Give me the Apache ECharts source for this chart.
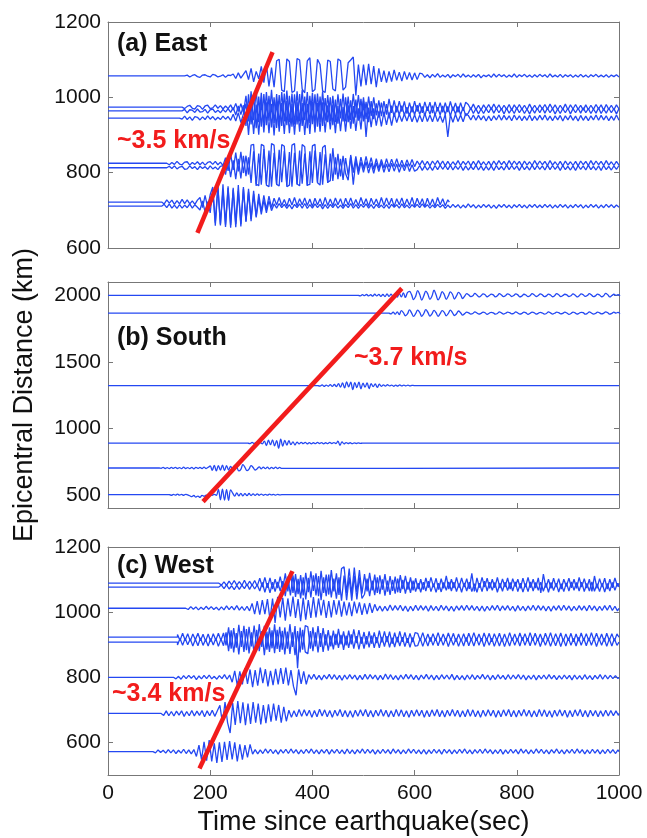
<!DOCTYPE html>
<html>
<head>
<meta charset="utf-8">
<script src="https://cdn.jsdelivr.net/npm/echarts@6/dist/echarts.min.js"></script>
<style>
  html, body { margin: 0; background: #fff; }
  #seismoChart { width: 647px; height: 838px; }
</style>
</head>
<body>
<div id="seismoChart"></div>
<script>
// tick labels
const timeTicks = [0, 200, 400, 600, 800, 1000]
const eastTicks = [600, 800, 1000, 1200]
const southTicks = [500, 1000, 1500, 2000]
const westTicks = [600, 800, 1000, 1200]

// (a) East : station distance (km), onset of the record (s), end of the record (s)
const eastBase = [1057, 974, 964, 945, 825, 813, 722, 711]
const eastOnset = [150, 145, 145, 140, 115, 115, 105, 105]
const eastEnd = [1000, 1000, 1000, 1000, 1000, 1000, 668, 1000]
const eastStep = 5
// offsets (km) from the baseline, one value every eastStep seconds from onset
const eastWaves = [
  [0,2,-3,1,3,-2,-4,2,3,-1,-3,4,2,-3,-1,3,-4,2,1,
   5,-7,8,-6,4,
   14,-10,20,-16,12,-8,
   25,-18,30,-28,22,-30,
   40,44,-38,-42,45,38,-44,-40,46,42,-35,-45,40,48,-42,-36,44,30,-40,-44,42,38,-35,-40,45,40,-38,-30,35,42,
   50,-52,30,
   -28,30,-25,32,-22,26,-30,20,
   -16,14,-18,12,-15,16,-12,10,-14,12,-10,9,-11,8,-10,7,
   5,-4,3,-5,4,-3,6,-4,2,-3,4,-5,3,-2,4,-4,5,-3,2,-4,3,-3,4,-5,2,-2,3,-4,5,-3,
   4,-2,3,-4,2,-3,5,-4,3,-2,4,-3,2,-4,3,-3,4,-2,3,-4,5,-3,2,-3,4,-4,3,-2,3,-4,
   2,-3,4,-3,2,-4,3,-2,4,-3,2,-3,3,-4,2,-2,3,-3],
  [3,-4,2,5,-3,-5,4,2,-6,3,5,-4,-2,6,-3,4,-5,3,-4,6,
   -8,10,-12,9,-14,
   30,-38,42,-35,45,-40,38,-44,40,-36,46,-42,35,-45,40,-38,44,-40,36,-46,42,-38,45,-35,40,-42,38,-44,36,-40,42,
   -36,32,-38,30,-40,34,-30,36,-38,28,-34,35,-28,32,-30,26,-32,28,-24,26,
   -22,18,-24,16,-20,22,-15,18,
   -14,16,-12,15,-17,12,-14,16,-12,11,-15,14,-10,13,-16,14,-11,12,-14,12,-13,15,-10,11,-14,12,-10,13,
   7,-6,8,-7,5,-8,6,-5,7,-6,8,-5,6,-7,5,-6,7,-8,6,-5,7,-6,5,-7,8,-6,5,-7,6,-5,
   7,-6,8,-5,6,-7,5,-6,8,-7,6,-5,7,-6,5,-8,6,-7,5,-6,7,-5,6,-8,7,-6,5,-7,6,-5],
  [-2,4,-5,3,2,-4,5,-3,-2,4,-6,3,5,-4,2,-5,4,-3,6,-4,
   9,-11,13,-10,15,
   -40,44,-36,42,-46,38,-42,45,-38,40,-44,36,-45,42,-40,46,-38,40,-42,44,-36,45,-40,38,-46,40,-35,44,-42,38,-40,
   34,-30,36,-38,30,-34,32,-28,36,-30,28,-34,30,-26,32,-28,24,-30,26,-22,
   20,-18,22,-15,18,-20,14,-16,
   13,-11,14,-12,10,-14,12,-11,15,-10,12,-13,11,-9,14,-12,10,-11,13,-10,12,-14,11,-9,12,-11,10,-13,
   -6,8,-7,6,-8,5,-7,6,-5,8,-6,7,-5,6,-8,7,-6,5,-7,8,-5,6,-7,5,-8,6,-6,7,-5,8,
   -6,7,-5,6,-8,5,-7,6,-5,7,-8,6,-5,7,-6,8,-5,6,-7,5,-6,8,-7,5,-6,7,-5,6,-8,6],
  [4,-3,5,-4,3,-6,4,2,-5,3,-4,6,-3,4,-5,2,-4,5,-3,4,-6,
   10,-8,14,-12,11,
   38,-45,40,-42,36,-44,46,-38,42,-40,38,-46,44,-36,40,-42,45,-40,38,-44,42,-36,40,-45,38,-42,44,-38,40,-36,42,
   -38,34,-30,36,-40,32,-35,30,-36,34,-28,32,-34,26,-30,45,-50,28,-24,26,
   -20,18,-22,16,-18,15,-20,14,
   -12,10,-9,11,-8,12,-10,9,-11,8,-10,12,-9,8,-10,11,-9,7,-12,10,-50,9,-11,10,-9,8,-10,12,
   7,-5,8,-6,7,-5,6,-8,5,-7,6,-5,8,-6,7,-5,6,-7,8,-5,6,-7,5,-6,8,-7,5,-6,7,-5,
   8,-6,5,-7,6,-5,7,-8,6,-5,7,-6,5,-8,7,-6,5,-7,6,-5,8,-6,7,-5,6,-7,5,-6,8,-6],
  [3,-4,2,-3,5,-2,-4,3,4,-5,2,-3,4,-4,3,-5,2,4,-3,5,-4,3,-6,
   15,-20,25,-18,28,-22,30,-26,20,-30,
   48,50,-55,-60,50,46,-58,-62,52,48,-56,-60,50,45,-62,-58,48,52,-55,-60,50,44,-58,-56,46,50,-52,-58,42,48,-50,-46,40,
   -30,25,-35,20,-28,-45,22,-25,18,-20,
   16,-14,18,-12,15,-16,12,-14,10,-13,12,-10,11,-9,12,-10,8,-11,9,-8,10,-9,
   6,-5,7,-6,5,-7,6,-4,7,-5,6,-7,5,-6,4,-5,7,-6,5,-4,6,-7,5,-6,7,-5,4,-6,5,-7,
   6,-5,7,-4,5,-6,7,-5,6,-4,5,-7,6,-5,4,-6,7,-5,6,-4,5,-6,7,-5,4,-6,5,-7,6,-5,
   4,-6,5,-7,6,-4,5,-6,7,-5,6,-4,5,-6,7,-5,4,-6,5,-5],
  [-3,4,-2,5,-3,2,4,-4,-3,5,-2,3,-5,4,-2,3,-4,5,-3,2,-5,4,6,
   -18,22,-25,20,-30,24,-28,32,-22,28,
   -40,44,-48,38,-45,50,-42,46,-50,40,-44,48,-38,45,-46,42,-50,40,-44,46,-42,38,-48,44,-40,46,-38,42,-45,36,-40,38,-35,
   28,-30,24,-32,26,-20,30,-45,20,-18,
   15,-12,16,-14,12,-15,13,-10,14,-12,10,-11,12,-9,10,-12,9,-8,11,-10,8,-9,
   -5,6,-7,5,-6,4,-7,6,-5,7,-4,6,-5,7,-6,5,-4,6,-7,5,-6,4,-5,7,-6,5,-7,4,-6,5,
   -7,6,-5,4,-6,7,-5,6,-4,5,-7,6,-5,4,-6,7,-5,6,-4,5,-6,7,-5,6,-4,5,-7,6,-5,4,
   -6,5,-7,6,-4,5,-6,7,-5,4,-6,5,-7,6,-5,4,-6,5,-4,6],
  [4,-5,6,-3,5,-6,4,-5,7,-4,6,-5,3,-6,5,
   12,-15,18,-14,20,
   40,-55,45,-62,47,-60,42,-68,38,-58,45,-65,40,-50,35,-45,30,-38,
   22,-25,18,-20,16,-15,
   10,-8,12,-9,7,-11,10,-8,12,-10,9,-7,11,-9,8,-12,10,-8,9,-11,
   12,-9,8,-10,11,-7,9,-12,10,-8,11,-9,7,-10,12,-8,9,-11,10,-7,
   8,-10,12,-9,11,-8,10,-12,9,-7,11,-10,8,-9,12,-11,10,-8,9,-12,
   10,-9,8,-11,12,-7,9,-10,6],
  [-3,5,-4,6,-5,3,-6,4,-5,3,-4,6,-5,4,-3,
   -10,14,-16,12,-18,
   45,-52,50,-48,42,-55,48,-50,44,-56,40,-48,46,-42,38,-40,32,-30,
   20,-22,16,-18,14,-12,
   6,-5,7,-4,5,-6,4,-7,5,-4,6,-5,7,-6,4,-5,6,-4,5,-7,
   4,-6,5,-4,6,-5,3,-6,5,-4,7,-5,4,-6,5,-3,6,-5,4,-6,
   5,-4,3,-5,4,-6,5,-3,4,-5,6,-4,3,-5,4,-3,5,-4,6,-3,
   4,-5,3,-4,5,-3,4,-6,3,-4,5,-3,4,-5,3,-4,6,-3,4,-5,
   3,-4,5,-3,4,-5,3,-6,4,-3,5,-4,3,-5,4,-3,5,-4,3,-5,
   4,-3,5,-4,3,-4,5,-3,4,-5,3,-4,5,-3,4,-5,3,-4,5,-3,
   4,-5,3,-4,5,-3,4,-5,3,-4,5,-3,4,-4,3,-3]
]
const eastSlope = [[175, 640], [322, 1120]]

// (b) South
const southBase = [2000, 1866, 1321, 888, 701, 500]
const southOnset = [490, 550, 411, 274, 100, 120]
const southEnd = [1000, 1000, 1000, 1000, 1000, 1000]
const southStep = 4
const southWaves = [
  [3,-4,5,-3,6,-5,4,-6,8,-5,7,-8,6,-9,10,-8,9,-12,10,-14,15,-12,18,-16,20,
   30,5,-32,-8,35,6,-36,-4,32,8,-30,-6,38,4,-35,-10,28,6,-30,-5,25,8,-28,-4,22,5,-24,-6,
   12,3,-10,-4,14,2,-12,-3,10,4,-11,-2,9,3,-12,-4,13,2,-10,-3,
   11,4,-9,-2,10,3,-12,-5,8,2,-10,-3,12,4,-9,-2,11,3,-10,-4,
   9,2,-11,-3,12,4,-10,-2,8,3,-9,-4,11,2,-12,-3,10,4,-8,-2,
   12,3,-10,-4,9,2,-11,-3,14,4,-12,-2,8,0,5,-4],
  [4,-6,8,-8,10,-12,
   18,4,-20,-6,24,2,-25,-4,22,6,-24,-3,26,5,-22,-6,20,3,-24,-4,18,6,-20,-2,22,4,-18,-5,16,3,-15,-4,
   8,2,-7,-3,9,1,-8,-2,7,3,-9,-1,6,2,-8,-3,9,2,-7,-1,
   8,3,-6,-2,9,1,-8,-3,7,2,-9,-1,8,3,-7,-2,6,1,-8,-3,
   9,2,-7,-1,8,3,-6,-2,7,1,-9,-3,8,2,-7,-1,6,3,-8,-2,
   9,1,-7,-3,8,2,-6,-1,9,3,-8,-2,7,0,5,-4],
  [3,-4,5,-6,4,-5,7,-6,8,-7,
   15,-12,20,-18,28,-10,25,-30,22,-15,26,-24,18,-12,20,-22,15,-8,12,-14,10,-6,
   5,-4,6,-3,4,-5,3,-4,5,-3,4,-2,3,-3,2,0],
  [3,-4,5,-3,6,-5,4,-6,
   15,-18,22,-12,25,-20,18,-38,30,-22,20,-15,18,-12,10,-14,8,
   -5,6,-4,5,-6,4,-5,3,-4,5,-3,4,-5,3,-4,5,-3,4,-3,
   14,-16,10,-6,
   4,-3,3,-4,2,-3,2,-2,0],
  [4,-3,5,-4,3,-5,4,-3,5,-4,3,-5,6,-4,3,-5,4,-6,5,-3,4,-5,6,-4,5,
   15,-18,20,-22,18,-16,22,-20,18,-15,12,-10,
   20,8,-22,-10,25,5,-20,-8,18,4,-15,-5,
   8,-6,7,-5,6,-7,5,-4,6,-5,4,-3],
  [3,-4,2,-3,4,-3,2,-4,3,-2,
   -8,-15,-6,-18,-10,-20,-5,-12,-4,-6,
   4,-5,3,-4,
   40,-38,42,-40,38,-42,36,
   12,-10,14,-8,10,-9,8,-7,9,-6,7,-5,6,-4,5,
   -4,3,-3,4,-2,3,-3,2,-2,0]
]
const southSlope = [[186, 448], [575, 2052]]

// (c) West
const westBase = [1089, 1077, 1012, 923, 908, 800, 689, 572]
const westOnset = [217, 217, 152, 136, 136, 128, 104, 88]
const westEnd = [1000, 1000, 1000, 1000, 1000, 1000, 1000, 1000]
const westStep = 5
const westWaves = [
  [5,-6,4,-7,6,-5,8,-6,5,-7,9,-8,6,-7,8,-9,
   15,-12,18,-14,16,-18,12,-15,20,-16,
   30,-25,35,-30,28,-34,25,-38,32,-28,36,-24,30,-40,38,-30,26,-35,40,-25,30,-36,45,
   50,-30,45,-35,48,-28,40,-32,
   28,-25,32,-22,26,-30,24,-20,28,-26,22,-24,20,-28,25,-18,22,-20,18,-22,
   15,-18,12,-20,16,-14,18,-12,15,-20,14,-16,22,-18,12,-15,18,-14,16,-12,
   14,-18,30,-25,16,-14,18,-12,15,-16,12,-14,18,-15,13,-12,16,-18,14,-10,
   12,-16,15,-12,18,-14,12,-15,16,-30,28,-14,12,-16,15,-12,14,-18,12,-10,
   15,-14,12,-16,18,-12,14,-15,12,-25,22,-16,14,-12,15,-18,12,-14,16,-10],
  [-4,6,-5,7,-6,4,-8,5,-7,6,-5,9,-7,8,-6,7,
   -12,14,-16,12,-18,15,-14,16,-12,18,
   -28,32,-26,36,-30,25,-35,30,-38,28,-32,36,-26,34,-40,30,-28,38,-32,26,-36,30,-42,
   35,-40,30,-42,35,-38,30,-35,
   -22,26,-28,20,-25,30,-22,24,-26,20,-24,22,-20,26,-18,22,-20,16,-18,20,
   -14,12,-16,15,-12,18,-14,10,-16,12,-15,14,-10,16,-12,15,-14,11,-16,13,
   -12,15,-14,10,-16,12,-14,18,-12,15,-10,14,-16,12,-13,15,-11,14,-12,16,
   -14,12,-15,10,-14,16,-12,14,-10,15,-13,12,-16,14,-11,12,-15,10,-14,13,
   -12,16,-10,14,-12,15,-14,11,-12,16,-13,10,-14,12,-15,11,-12,14,-10,12],
  [3,-4,5,-3,4,-5,3,-4,6,-3,5,-4,3,-6,4,-5,7,-4,6,-5,8,-6,5,-7,6,-8,
   15,-18,22,-20,25,-18,28,-35,30,-45,
   35,-28,32,-38,30,-25,36,-30,28,-40,32,-35,25,-30,34,-28,30,-22,26,-30,
   22,-28,25,-20,24,-26,20,-22,18,-24,20,-16,18,-20,15,-18,16,-14,12,
   -8,7,-9,6,-8,10,-7,8,-6,9,-8,7,-10,6,-8,9,-7,8,-6,7,
   -9,8,-7,6,-8,9,-6,7,-8,6,-9,7,-6,8,-7,9,-6,8,-7,6,
   -8,7,-9,6,-7,8,-6,9,-8,7,-6,8,-7,6,-9,8,-7,6,-8,7,
   -6,9,-7,8,-6,7,-8,6,-9,7,-6,8,-7,9,-6,7,-8,6,-7,8,
   -6,7,-8,9,-6,7,-8,6,-7,8,-6,9,-7,6,-8],
  [8,-10,12,-9,11,-12,10,-8,12,-11,9,-12,10,-13,11,-9,12,-10,13,
   -25,30,-35,28,-32,38,-30,35,-40,32,-28,36,-34,40,-30,35,-38,30,-34,40,
   -36,32,-38,30,-35,40,-30,34,-95,30,-38,36,32,-35,30,-28,34,-30,28,
   -25,22,-28,20,-24,26,-22,18,-25,20,-22,24,-18,22,-20,16,-22,18,-20,15,
   -18,20,-16,18,-15,17,-20,14,-16,18,-14,15,-17,12,-15,14,
   12,-10,14,-12,10,-13,11,-10,14,-12,10,-11,13,-10,12,-14,10,-12,11,-13,
   12,-10,14,-11,10,-12,13,-10,12,-14,11,-10,12,-13,10,-12,14,-11,10,-12,
   13,-10,11,-12,14,-10,12,-11,10,-13,12,-10,14,-12,11,-10,13,-12,10,-11,
   12,-14,10,-12,13,-10,11,-12,14,-10,12,-11,10,-13,12,-10,11,-12,10],
  [-9,11,-10,12,-8,10,-12,9,-11,13,-10,8,-12,11,-9,12,-13,10,-11,
   30,-28,36,-32,28,-38,34,-30,40,-35,30,-36,38,-28,34,-40,32,-30,36,-34,
   38,-30,35,-38,32,-36,30,-40,34,-32,38,-30,-36,34,-28,30,-32,28,-30,
   24,-26,20,-22,25,-18,22,-24,20,-18,24,-20,18,-22,16,-20,18,-16,20,-18,
   15,-18,16,-14,18,-16,14,-15,16,-12,15,-14,12,-16,14,-12,
   -11,12,-13,10,-12,14,-10,12,-11,13,-10,12,-14,11,-10,12,-13,10,-12,14,
   -11,10,-12,13,-10,12,-14,11,-10,12,-13,10,-12,11,-14,10,-12,13,-10,11,
   -12,14,-10,12,-11,13,-10,12,-14,11,-10,12,-13,10,-11,12,-14,10,-12,13,
   -10,11,-12,14,-10,12,-11,13,-10,12,-14,11,-10,12,-13,10,-12,11,-10],
  [4,-5,3,-6,5,-4,6,-3,5,-7,4,-5,6,-4,7,-5,3,-6,5,-4,8,-6,7,
   -15,20,-25,18,-22,28,-20,24,-30,22,-26,30,-18,25,-28,20,-24,26,-22,28,
   -20,30,-25,22,-28,-55,24,-20,18,-22,
   8,-6,9,-7,6,-8,7,-5,9,-6,8,-7,6,-9,7,-6,8,-5,7,-8,
   6,-7,9,-6,8,-5,7,-8,6,-7,10,-6,8,-7,5,-8,7,-6,9,-5,
   8,-7,6,-8,7,-5,9,-6,7,-8,6,-7,8,-5,7,-6,9,-8,6,-7,
   5,-8,7,-6,8,-7,6,-5,9,-6,7,-8,6,-7,8,-5,6,-7,8,-6,
   7,-5,8,-6,7,-8,5,-6,7,-8,6,-5,7,-6,8,-5,6,-7,5,-6,
   7,-5,6,-8,7,-6,5,-7,8,-6,5,-7,6,-5,8,-6,7,-5,6,-4,
   5,-4],
  [5,-6,8,-7,6,-8,7,-5,8,-9,6,-7,9,-8,7,-6,9,-10,8,-7,10,-9,8,
   25,-30,35,-28,-60,32,-35,38,-30,34,-36,30,-32,35,-28,30,-34,26,-30,28,
   -25,30,-22,26,-28,20,-24,
   10,-12,8,-10,12,-9,11,-8,10,-12,9,-10,13,-8,11,-10,9,-12,10,-8,
   12,-10,9,-11,8,-12,10,-9,11,-8,12,-10,9,-11,10,-8,12,-9,10,-11,
   8,-10,12,-9,11,-10,8,-12,10,-9,11,-8,10,-12,9,-10,11,-8,12,-10,
   9,-11,10,-8,12,-9,10,-11,8,-10,12,-9,11,-10,8,-12,10,-9,11,-8,
   10,-12,9,-10,11,-8,12,-10,9,-11,10,-8,12,-9,10,-11,8,-10,12,-9,
   11,-10,8,-12,10,-9,11,-8,10,-12,9,-10,11,-8,12,-10,9,-11,10,-8,
   9,-10,8,-9,10,-8,9,-7,8,-6],
  [3,-4,5,-3,4,-5,6,-4,5,-6,4,-5,7,-6,5,-7,6,
   -15,20,-25,30,-28,35,-30,25,-35,28,-32,30,-26,32,-24,28,-30,22,-25,20,-18,22,
   -8,6,-7,5,-6,8,-5,7,-6,5,-8,6,-5,7,-6,8,-5,6,-7,5,
   -6,7,-5,8,-6,5,-7,6,-5,7,-8,6,-5,7,-6,5,-7,8,-6,5,
   -7,6,-5,8,-6,7,-5,6,-8,5,-6,7,-5,6,-7,8,-5,6,-7,5,
   -6,8,-5,7,-6,5,-7,6,-8,5,-6,7,-5,6,-8,7,-5,6,-7,5,
   -6,7,-5,8,-6,5,-7,6,-5,7,-6,8,-5,6,-7,5,-6,7,-8,5,
   -6,7,-5,6,-7,8,-5,6,-7,5,-6,8,-5,7,-6,5,-7,6,-5,8,
   -6,5,-7,6,-5,7,-6,8,-5,6,-7,5,-6,7,-5,6,-7,5,-6,7,
   -5,6,-6,5]
]
const westSlope = [[179, 520], [361, 1126]]

const traceColor = '#2448f2'
const slopeColor = '#f21c1c'
const frameColor = '#777'
const fontFamily = '"Liberation Sans", Arial, sans-serif'

const buildTraces = (base, onset, end, step, waves, g, smooth) => base.map((b, k) => {
  const pts = [[0, b], [onset[k], b]]
  waves[k].forEach((v, i) => pts.push([onset[k] + step * i, b + v]))
  const last = onset[k] + step * (waves[k].length - 1)
  if (last < end[k]) pts.push([end[k], b])
  return {
    type: 'line', xAxisIndex: g * 2, yAxisIndex: g * 2, data: pts,
    showSymbol: false, smooth: smooth, silent: true, z: 2,
    lineStyle: { color: traceColor, width: 1.3 },
  }
})

const slopeLine = (pts, g) => ({
  type: 'line', xAxisIndex: g * 2, yAxisIndex: g * 2, data: pts,
  showSymbol: false, silent: true, z: 5,
  lineStyle: { color: slopeColor, width: 4.5 },
})

const plainNumber = v => String(v)

const xAxes = (g, showLabels) => [
  {
    type: 'value', gridIndex: g, position: 'bottom', min: 0, max: 1000,
    axisLine: { show: true, onZero: false, lineStyle: { color: frameColor } },
    axisTick: { show: true, inside: true, length: 5, customValues: timeTicks, lineStyle: { color: frameColor } },
    axisLabel: { show: showLabels, customValues: timeTicks, formatter: plainNumber, fontSize: 21, color: '#111', margin: 8, fontFamily },
    splitLine: { show: false },
    name: showLabels ? 'Time since earthquake(sec)' : '',
    nameLocation: 'middle', nameGap: 34,
    nameTextStyle: { fontSize: 27, color: '#111', fontFamily },
  },
  {
    type: 'value', gridIndex: g, position: 'top', min: 0, max: 1000,
    axisLine: { show: true, onZero: false, lineStyle: { color: frameColor } },
    axisTick: { show: true, inside: true, length: 5, customValues: timeTicks, lineStyle: { color: frameColor } },
    axisLabel: { show: false },
    splitLine: { show: false },
  },
]

const yAxes = (g, min, max, ticks, name) => [
  {
    type: 'value', gridIndex: g, position: 'left', min: min, max: max,
    axisLine: { show: true, onZero: false, lineStyle: { color: frameColor } },
    axisTick: { show: true, inside: true, length: 5, customValues: ticks, lineStyle: { color: frameColor } },
    axisLabel: { customValues: ticks, formatter: plainNumber, fontSize: 21, color: '#111', margin: 7, fontFamily },
    splitLine: { show: false },
    name: name, nameLocation: 'middle', nameGap: 70, nameRotate: 90,
    nameTextStyle: { fontSize: 27, color: '#111', fontFamily },
  },
  {
    type: 'value', gridIndex: g, position: 'right', min: min, max: max,
    axisLine: { show: true, onZero: false, lineStyle: { color: frameColor } },
    axisTick: { show: true, inside: true, length: 5, customValues: ticks, lineStyle: { color: frameColor } },
    axisLabel: { show: false },
    splitLine: { show: false },
  },
]

const label = (text, x, y, fill, size) => ({
  type: 'text', x: x, y: y, z: 10, silent: true,
  style: { text: text, fill: fill, font: 'bold ' + size + 'px ' + fontFamily, verticalAlign: 'middle' },
})

const option = {
  animation: false,
  backgroundColor: '#fff',
  grid: [
    { left: 108, right: 28, top: 22, height: 226, outerBoundsMode: 'none' },
    { left: 108, right: 28, top: 282, height: 226, outerBoundsMode: 'none' },
    { left: 108, right: 28, top: 547, height: 228, outerBoundsMode: 'none' },
  ],
  xAxis: [...xAxes(0, false), ...xAxes(1, false), ...xAxes(2, true)],
  yAxis: [
    ...yAxes(0, 600, 1200, eastTicks, ''),
    ...yAxes(1, 400, 2100, southTicks, 'Epicentral Distance (km)'),
    ...yAxes(2, 500, 1200, westTicks, ''),
  ],
  series: [
    ...buildTraces(eastBase, eastOnset, eastEnd, eastStep, eastWaves, 0, false),
    ...buildTraces(southBase, southOnset, southEnd, southStep, southWaves, 1, 0.4),
    ...buildTraces(westBase, westOnset, westEnd, westStep, westWaves, 2, false),
    slopeLine(eastSlope, 0),
    slopeLine(southSlope, 1),
    slopeLine(westSlope, 2),
  ],
  graphic: [
    label('(a) East', 117, 44, '#111', 25),
    label('~3.5 km/s', 117, 141, slopeColor, 25),
    label('(b) South', 117, 338, '#111', 25),
    label('~3.7 km/s', 354, 358, slopeColor, 25),
    label('(c) West', 117, 566, '#111', 25),
    label('~3.4 km/s', 112, 694, slopeColor, 25),
  ],
}

const chart = echarts.init(document.getElementById('seismoChart'))
chart.setOption(option)
</script>
</body>
</html>
